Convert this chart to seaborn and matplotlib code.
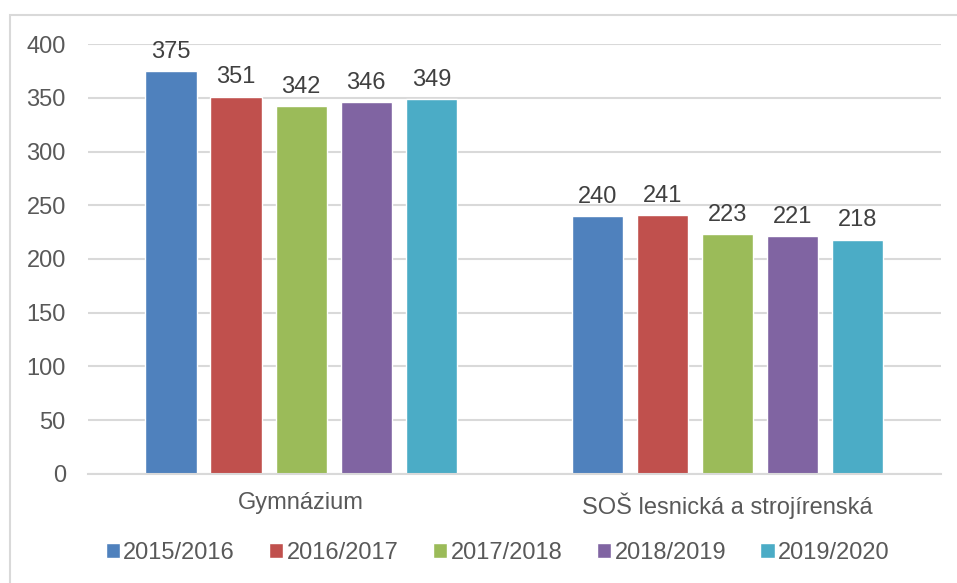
import pandas as pd
import matplotlib.pyplot as plt
import seaborn as sns
from matplotlib.patches import Patch, Rectangle

# chart data
schools = ['Gymnázium', 'SOŠ lesnická a strojírenská']
years = ['2015/2016', '2016/2017', '2017/2018', '2018/2019', '2019/2020']
gym_counts = [375, 351, 342, 346, 349]
sos_counts = [240, 241, 223, 221, 218]
colors = ['#4F81BD', '#C0504D', '#9BBB59', '#8064A2', '#4BACC6']

rows = []
for year, g, s in zip(years, gym_counts, sos_counts):
    rows.append({'school': schools[0], 'year': year, 'count': g})
    rows.append({'school': schools[1], 'year': year, 'count': s})
df = pd.DataFrame(rows)

sns.set_theme(style='white')
plt.rcParams['font.family'] = ['Liberation Sans', 'DejaVu Sans']

fig = plt.figure(figsize=(9.57, 5.83), dpi=100)
ax = fig.add_axes([0.092, 0.187, 0.891, 0.7375])

sns.barplot(data=df, x='school', y='count', hue='year', order=schools,
            hue_order=years, palette=colors, width=0.763, gap=0.21,
            saturation=1, ax=ax, legend=False)

for cont in ax.containers:
    ax.bar_label(cont, padding=6, fontsize=17, color='#404040')

ax.set_ylim(0, 400)
ax.set_xlim(-0.5, 1.5)
ax.set_yticks(range(0, 401, 50))
ax.yaxis.grid(True, color='#D9D9D9', linewidth=1.5)
ax.set_axisbelow(True)
ax.set_xlabel('')
ax.set_ylabel('')
for side in ['top', 'right', 'left']:
    ax.spines[side].set_visible(False)
ax.spines['bottom'].set_color('#D9D9D9')
ax.spines['bottom'].set_linewidth(1.5)
ax.tick_params(axis='both', length=0, labelsize=17, labelcolor='#595959')
ax.tick_params(axis='y', pad=16)
ax.tick_params(axis='x', pad=13)

handles = [Patch(facecolor=c, label=y) for c, y in zip(colors, years)]
fig.legend(handles=handles, loc='center', bbox_to_anchor=(0.52, 0.051),
           ncol=5, frameon=False, fontsize=17, labelcolor='#595959',
           handlelength=0.6, handleheight=0.6, handletextpad=0.15,
           columnspacing=1.45)

# chart area border (only top and left are visible in the crop)
fig.patches.append(Rectangle((0.0105, -0.1), 1.2, 1.074, transform=fig.transFigure,
                             fill=False, edgecolor='#D9D9D9', linewidth=1.5))

fig.savefig('out.png', dpi=100)
